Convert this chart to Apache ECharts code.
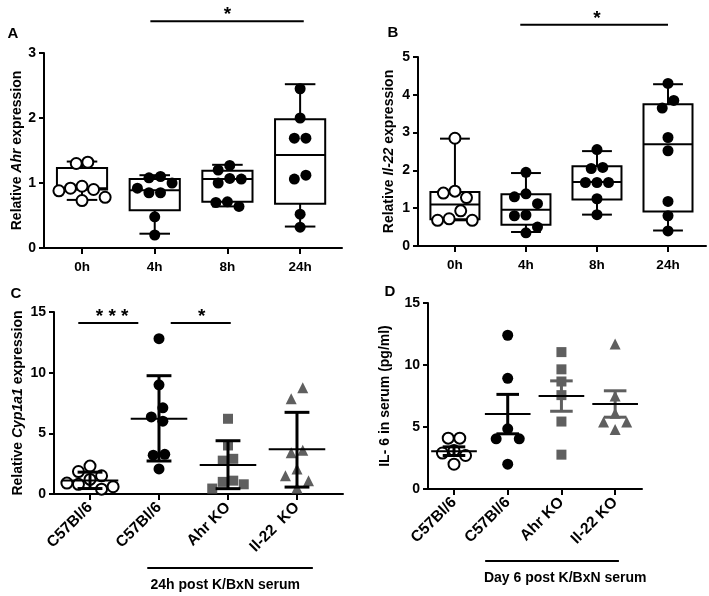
<!DOCTYPE html>
<html><head><meta charset="utf-8">
<script src="https://cdn.jsdelivr.net/npm/echarts@6/dist/echarts.min.js"></script>
<style>html,body{margin:0;padding:0;background:#fff}#c{width:709px;height:596px}</style>
</head><body><div id="c"></div>
<script>
// ---------- data ----------
const timeCats = ['0h', '4h', '8h', '24h'];
const genoCatsC = ['C57Bl/6', 'C57Bl/6', 'Ahr KO', 'Il-22  KO'];
const genoCatsD = ['C57Bl/6', 'C57Bl/6', 'Ahr KO', 'Il-22 KO'];

// Panel A: relative Ahr expression (points per time point)
const ahr0h = [1.32, 1.30, 0.95, 0.92, 0.90, 0.88, 0.78, 0.73];
const ahr4h = [1.10, 1.08, 1.00, 0.92, 0.85, 0.85, 0.48, 0.20];
const ahr8h = [1.27, 1.20, 1.07, 1.06, 1.00, 0.71, 0.70, 0.64];
const ahr24h = [2.45, 2.00, 1.69, 1.69, 1.12, 1.06, 0.52, 0.32];
// box stats [min, q1, median, q3, max]
const ahrBox = [[0.74, 0.90, 0.92, 1.23, 1.33], [0.22, 0.58, 0.89, 1.06, 1.12], [0.64, 0.71, 1.06, 1.19, 1.28], [0.33, 0.68, 1.43, 1.98, 2.52]];

// Panel B: relative Il-22 expression
const il22_0h = [2.85, 1.45, 1.40, 1.28, 0.93, 0.72, 0.68, 0.68];
const il22_4h = [1.95, 1.38, 1.30, 1.12, 0.82, 0.80, 0.50, 0.35];
const il22_8h = [2.55, 2.08, 2.05, 1.68, 1.68, 1.68, 1.25, 0.83];
const il22_24h = [4.30, 3.85, 3.65, 2.87, 2.52, 1.18, 0.80, 0.40];
const il22Box = [[0.68, 0.71, 1.10, 1.43, 2.84], [0.37, 0.56, 0.96, 1.37, 1.93], [0.83, 1.23, 1.69, 2.11, 2.51], [0.41, 0.91, 2.69, 3.75, 4.28]];

// Panel C: relative Cyp1a1 expression
const cypWT0 = [2.3, 1.85, 1.5, 1.2, 0.9, 0.8, 0.6, 0.4];
const cypWT = [12.8, 9.0, 7.1, 6.35, 6.0, 3.27, 3.2, 2.07];
const cypAhrKO = [6.2, 4.0, 2.9, 2.75, 1.1, 1.0, 0.8, 0.45];
const cypIl22KO = [8.75, 7.85, 3.6, 3.4, 2.07, 1.5, 1.1, 0.5];
// [mean, low, high]
const cypStats = [[1.12, 0.45, 1.8], [6.2, 2.72, 9.75], [2.4, 0.44, 4.39], [3.68, 0.57, 6.73]];

// Panel D: IL-6 in serum (pg/ml)
const il6WT0 = [4.1, 4.1, 3.1, 2.9, 2.7, 2.0];
const il6WT = [12.4, 8.93, 4.85, 4.05, 4.05, 2.0];
const il6AhrKO = [11.04, 9.65, 8.67, 7.57, 5.44, 2.77];
const il6Il22KO = [11.7, 7.5, 6.1, 5.4, 5.4, 4.8];
const il6Stats = [[3.04, 2.7, 3.4], [6.05, 4.45, 7.63], [7.49, 6.27, 8.72], [6.85, 5.79, 7.92]];

// ---------- styles ----------
const FONT = '"Liberation Sans", Arial, sans-serif';
const GREY = '#5f5f5f';
const sym = {
  open: {symbol: 'circle', size: 11, itemStyle: {color: '#fff', borderColor: '#000', borderWidth: 2, opacity: 1}},
  filled: {symbol: 'circle', size: 11, itemStyle: {color: '#000', opacity: 1}},
  square: {symbol: 'rect', size: 10, itemStyle: {color: GREY, opacity: 1}},
  tri: {symbol: 'triangle', size: 11, itemStyle: {color: GREY, opacity: 1}}
};

const panels = [
  {grid: {left: 44, top: 53, width: 298, height: 195}, xMin: -0.523, xMax: 3.576, yMax: 3, yInt: 1,
   cats: timeCats, rotate: 0, name: 'Relative {i|Ahr} expression', nameGap: 18,
   groups: [[ahr0h, 'open'], [ahr4h, 'filled'], [ahr8h, 'filled'], [ahr24h, 'filled']], box: ahrBox},
  {grid: {left: 418, top: 57, width: 288, height: 189}, xMin: -0.52, xMax: 3.535, yMax: 5, yInt: 1,
   cats: timeCats, rotate: 0, name: 'Relative {i|Il-22} expression', nameGap: 22,
   groups: [[il22_0h, 'open'], [il22_4h, 'filled'], [il22_8h, 'filled'], [il22_24h, 'filled']], box: il22Box},
  {grid: {left: 54, top: 312, width: 289, height: 182}, xMin: -0.522, xMax: 3.667, yMax: 15, yInt: 5,
   cats: genoCatsC, rotate: 45, name: 'Relative {i|Cyp1a1} expression', nameGap: 29,
   groups: [[cypWT0, 'open'], [cypWT, 'filled'], [cypAhrKO, 'square'], [cypIl22KO, 'tri']],
   err: cypStats, errColors: ['#000', '#000', '#000', '#000'], meanW: 0.82, capW: 0.36},
  {grid: {left: 428, top: 303, width: 214, height: 186}, xMin: -0.484, xMax: 3.5, yMax: 15, yInt: 5,
   cats: genoCatsD, rotate: 45, name: 'IL- 6 in serum (pg/ml)', nameGap: 36,
   groups: [[il6WT0, 'open'], [il6WT, 'filled'], [il6AhrKO, 'square'], [il6Il22KO, 'tri']],
   err: il6Stats, errColors: ['#000', '#000', GREY, GREY], meanW: 0.85, capW: 0.42}
];

// simple beeswarm: spread points that would overlap horizontally, then centre each cluster
function swarm(vals, pxX, pxY, d) {
  const order = vals.map((v, i) => i).sort((a, b) => vals[b] - vals[a]);
  const placed = [];
  const offPx = new Array(vals.length).fill(0);
  order.forEach(idx => {
    const y = vals[idx] * pxY;
    for (let k = 0; k < 20; k++) {
      const m = k === 0 ? 0 : (k % 2 ? -Math.ceil(k / 2) : k / 2);
      const x = m * d * 1.05;
      const clash = placed.some(p => Math.abs(p.y - y) < d * 1.1 && Math.abs(p.x - x) < d);
      if (!clash) { placed.push({x, y}); offPx[idx] = x; break; }
    }
  });
  // clusters of vertically-close points (chains in sorted order)
  let cluster = [order[0]];
  const flush = () => {
    const mean = cluster.reduce((s, i) => s + offPx[i], 0) / cluster.length;
    cluster.forEach(i => { offPx[i] -= mean; });
  };
  for (let j = 1; j < order.length; j++) {
    const prev = order[j - 1], cur = order[j];
    if ((vals[prev] - vals[cur]) * pxY < d * 1.1) cluster.push(cur);
    else { flush(); cluster = [cur]; }
  }
  flush();
  return offPx.map(o => o / pxX);
}

const grids = [], xAxes = [], yAxes = [], series = [];
const axisStyle = {lineStyle: {color: '#000', width: 2}};
const labelStyle = {color: '#000', fontWeight: 'bold', fontSize: 13, fontFamily: FONT};

panels.forEach((p, k) => {
  grids.push(p.grid);
  xAxes.push({
    type: 'value', gridIndex: k, min: p.xMin, max: p.xMax,
    axisLine: {show: true, onZero: false, ...axisStyle},
    axisTick: {show: true, customValues: [0, 1, 2, 3], length: 6, lineStyle: {width: 2, color: '#000'}},
    axisLabel: {customValues: [0, 1, 2, 3], formatter: v => p.cats[Math.round(v)], rotate: p.rotate,
      margin: p.rotate ? 11 : 12, ...labelStyle, fontSize: p.rotate ? 15.5 : 13.5},
    splitLine: {show: false}
  });
  yAxes.push({
    type: 'value', gridIndex: k, min: 0, max: p.yMax, interval: p.yInt,
    axisLine: {show: true, onZero: false, ...axisStyle},
    axisTick: {show: true, length: 5, lineStyle: {width: 2, color: '#000'}},
    axisLabel: {...labelStyle, fontSize: 14, margin: 8},
    splitLine: {show: false},
    name: p.name, nameLocation: 'middle', nameRotate: 90, nameGap: p.nameGap,
    nameTextStyle: {color: '#000', fontWeight: 'bold', fontSize: 14, fontFamily: FONT,
      rich: {i: {fontStyle: 'italic', fontWeight: 'bold', fontSize: 14, fontFamily: FONT, color: '#000'}}}
  });
  const pxX = p.grid.width / (p.xMax - p.xMin);
  const pxY = p.grid.height / p.yMax;

  if (p.box) {
    series.push({
      type: 'custom', xAxisIndex: k, yAxisIndex: k, z: 1,
      data: p.box.map((b, i) => [i, ...b]),
      encode: {x: 0, y: [1, 2, 3, 4, 5]},
      renderItem: (params, api) => {
        const i = api.value(0);
        const lo = api.value(1), q1 = api.value(2), med = api.value(3), q3 = api.value(4), hi = api.value(5);
        const bw = 0.69 / 2, cw = 0.21;
        const tl = api.coord([i - bw, q3]), br = api.coord([i + bw, q1]);
        const cx = api.coord([i, 0])[0];
        const m = api.coord([0, med])[1], yl = api.coord([0, lo])[1], yh = api.coord([0, hi])[1];
        const cl = api.coord([i - cw, 0])[0], cr = api.coord([i + cw, 0])[0];
        const ls = {stroke: '#000', lineWidth: 2, fill: null};
        return {type: 'group', children: [
          {type: 'line', shape: {x1: cx, y1: tl[1], x2: cx, y2: yh}, style: ls},
          {type: 'line', shape: {x1: cx, y1: br[1], x2: cx, y2: yl}, style: ls},
          {type: 'line', shape: {x1: cl, y1: yh, x2: cr, y2: yh}, style: ls},
          {type: 'line', shape: {x1: cl, y1: yl, x2: cr, y2: yl}, style: ls},
          {type: 'rect', shape: {x: tl[0], y: tl[1], width: br[0] - tl[0], height: br[1] - tl[1]}, style: {stroke: '#000', lineWidth: 2, fill: '#fff'}},
          {type: 'line', shape: {x1: tl[0], y1: m, x2: br[0], y2: m}, style: ls}
        ]};
      }
    });
  }

  p.groups.forEach(([vals, kind], gi) => {
    const s = sym[kind];
    const off = swarm(vals, pxX, pxY, s.size);
    series.push({
      type: 'scatter', xAxisIndex: k, yAxisIndex: k, z: 2,
      symbol: s.symbol, symbolSize: s.size, itemStyle: s.itemStyle,
      data: vals.map((v, j) => [gi + off[j], v]),
      emphasis: {disabled: true}, silent: true
    });
  });

  if (p.err) {
    series.push({
      type: 'custom', xAxisIndex: k, yAxisIndex: k, z: 3,
      data: p.err.map((e, i) => [i, ...e]),
      encode: {x: 0, y: [1, 2, 3]},
      renderItem: (params, api) => {
        const i = api.value(0);
        const mean = api.value(1), lo = api.value(2), hi = api.value(3);
        const col = p.errColors[params.dataIndex];
        const cx = api.coord([i, 0])[0];
        const ym = api.coord([0, mean])[1], yl = api.coord([0, lo])[1], yh = api.coord([0, hi])[1];
        const ml = api.coord([i - p.meanW / 2, 0])[0], mr = api.coord([i + p.meanW / 2, 0])[0];
        const cl = api.coord([i - p.capW / 2, 0])[0], cr = api.coord([i + p.capW / 2, 0])[0];
        return {type: 'group', children: [
          {type: 'line', shape: {x1: cx, y1: yh, x2: cx, y2: yl}, style: {stroke: col, lineWidth: 3}},
          {type: 'line', shape: {x1: cl, y1: yh, x2: cr, y2: yh}, style: {stroke: col, lineWidth: 3}},
          {type: 'line', shape: {x1: cl, y1: yl, x2: cr, y2: yl}, style: {stroke: col, lineWidth: 3}},
          {type: 'line', shape: {x1: ml, y1: ym, x2: mr, y2: ym}, style: {stroke: '#000', lineWidth: 2}}
        ]};
      }
    });
  }
});

const chart = echarts.init(document.getElementById('c'), null, {renderer: 'canvas'});
chart.setOption({
  animation: false, backgroundColor: '#fff',
  grid: grids, xAxis: xAxes, yAxis: yAxes, series: series
});

// annotations (significance bars, group labels, panel letters)
const annots = [
  {g: 0, x1: 0.94, x2: 3.05, y: 3.49, txt: '*', tx: 2.0},
  {g: 1, x1: 0.92, x2: 3.0, y: 5.85, txt: '*', tx: 2.0},
  {g: 2, x1: -0.17, x2: 0.70, y: 14.1, txt: '* * *', tx: 0.32},
  {g: 2, x1: 1.17, x2: 2.04, y: 14.1, txt: '*', tx: 1.62}
];
const underlines = [
  {g: 2, x1: 0.83, x2: 3.23, y: -6.1, txt: '24h post K/BxN serum', tx: 1.96},
  {g: 3, x1: 0.58, x2: 3.07, y: -5.8, txt: 'Day 6 post K/BxN serum', tx: 2.07}
];
const gfx = [];
annots.forEach(a => {
  const p1 = chart.convertToPixel({gridIndex: a.g}, [a.x1, a.y]);
  const p2 = chart.convertToPixel({gridIndex: a.g}, [a.x2, a.y]);
  const pt = chart.convertToPixel({gridIndex: a.g}, [a.tx, a.y]);
  gfx.push({type: 'line', shape: {x1: p1[0], y1: p1[1], x2: p2[0], y2: p2[1]}, style: {stroke: '#000', lineWidth: 2}});
  gfx.push({type: 'text', x: pt[0], y: pt[1] - 6, style: {text: a.txt, font: 'bold 19px ' + FONT, fill: '#000', align: 'center', verticalAlign: 'middle'}});
});
underlines.forEach(a => {
  const p1 = chart.convertToPixel({gridIndex: a.g}, [a.x1, a.y]);
  const p2 = chart.convertToPixel({gridIndex: a.g}, [a.x2, a.y]);
  const pt = chart.convertToPixel({gridIndex: a.g}, [a.tx, a.y]);
  gfx.push({type: 'line', shape: {x1: p1[0], y1: p1[1], x2: p2[0], y2: p2[1]}, style: {stroke: '#000', lineWidth: 2}});
  gfx.push({type: 'text', x: pt[0], y: pt[1] + 17, style: {text: a.txt, font: 'bold 14px ' + FONT, fill: '#000', align: 'center', verticalAlign: 'middle'}});
});
[['A', 13, 34], ['B', 393, 33], ['C', 16, 294], ['D', 390, 292]].forEach(([t, x, y]) => {
  gfx.push({type: 'text', x, y, style: {text: t, font: 'bold 15px ' + FONT, fill: '#000', align: 'center', verticalAlign: 'middle'}});
});
chart.setOption({graphic: gfx});
</script>
</body></html>
